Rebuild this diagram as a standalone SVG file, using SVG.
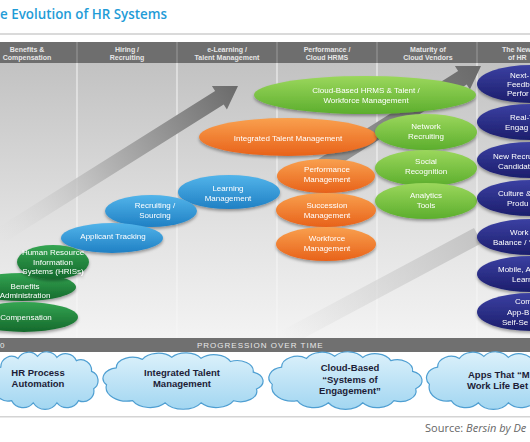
<svg xmlns="http://www.w3.org/2000/svg" xmlns:xlink="http://www.w3.org/1999/xlink" width="530" height="442" viewBox="0 0 530 442">
<style>
.hdr{font-family:"Liberation Sans",Arial,sans-serif;font-size:7px;font-weight:bold;fill:#e6e6e6;text-anchor:middle}
.nt{font-family:"Liberation Sans",Arial,sans-serif;font-size:8px;fill:#ffffff;text-anchor:middle}
.ns{font-family:"Liberation Sans",Arial,sans-serif;font-size:8px;fill:#ffffff}
.ct{font-family:"Liberation Sans",Arial,sans-serif;font-size:9.5px;font-weight:bold;fill:#1c1c36;text-anchor:middle}
.cs{font-family:"Liberation Sans",Arial,sans-serif;font-size:9.5px;font-weight:bold;fill:#1c1c36}
.dg{fill:url(#gDG)}.bl{fill:url(#gBL)}.or{fill:url(#gOR)}.lg{fill:url(#gLG)}.nv{fill:url(#gNV)}
.sep{stroke:#f6f6f6;stroke-width:1}
.hsep{stroke:#9a9a9a;stroke-width:1}
.cl{fill:url(#gCL);stroke:#4f9fd2;stroke-width:1.2}
</style>
<defs>
<linearGradient id="gBG" x1="0" y1="0" x2="0" y2="1">
<stop offset="0" stop-color="#c2c2c2"/><stop offset="0.6" stop-color="#e2e2e2"/><stop offset="1" stop-color="#f3f3f3"/>
</linearGradient>
<linearGradient id="gDG" x1="0" y1="0" x2="0" y2="1"><stop offset="0" stop-color="#34a552"/><stop offset="1" stop-color="#15692c"/></linearGradient>
<linearGradient id="gBL" x1="0" y1="0" x2="0" y2="1"><stop offset="0" stop-color="#52b4ea"/><stop offset="1" stop-color="#1f80c4"/></linearGradient>
<linearGradient id="gOR" x1="0" y1="0" x2="0" y2="1"><stop offset="0" stop-color="#f9a04e"/><stop offset="1" stop-color="#e8621a"/></linearGradient>
<linearGradient id="gLG" x1="0" y1="0" x2="0" y2="1"><stop offset="0" stop-color="#9bd75c"/><stop offset="1" stop-color="#5cae2d"/></linearGradient>
<linearGradient id="gNV" x1="0" y1="0" x2="0" y2="1"><stop offset="0" stop-color="#3b40a2"/><stop offset="1" stop-color="#1c1e6c"/></linearGradient>
<linearGradient id="gCL" x1="0" y1="0" x2="0" y2="1"><stop offset="0" stop-color="#dcf1fb"/><stop offset="1" stop-color="#a2d6f1"/></linearGradient>
<linearGradient id="gA1" gradientUnits="userSpaceOnUse" x1="0" y1="236" x2="238" y2="86">
<stop offset="0" stop-color="#d8d8d8" stop-opacity="0"/><stop offset="0.45" stop-color="#b4b4b4"/><stop offset="1" stop-color="#6a6a6a"/>
</linearGradient>
<linearGradient id="gA2" gradientUnits="userSpaceOnUse" x1="300" y1="180" x2="481" y2="66">
<stop offset="0" stop-color="#a0a0a0"/><stop offset="1" stop-color="#6a6a6a"/>
</linearGradient>
<linearGradient id="gA3" gradientUnits="userSpaceOnUse" x1="285" y1="340" x2="478" y2="236">
<stop offset="0" stop-color="#d0d0d0" stop-opacity="0"/><stop offset="1" stop-color="#c4c4c4"/>
</linearGradient>
<filter id="sh" x="-20%" y="-30%" width="140%" height="170%">
<feDropShadow dx="0" dy="2" stdDeviation="1.5" flood-color="#000" flood-opacity="0.35"/>
</filter>
<path id="cloud" vector-effect="non-scaling-stroke" d="M4,30 A10,10 0 0 1 10,14 A10,10 0 0 1 26,6 A11,11 0 0 1 44,4 A11,11 0 0 1 62,5 A11,11 0 0 1 80,8 A10,10 0 0 1 94,18 A9,9 0 0 1 96,34 A10,10 0 0 1 82,45 A12,12 0 0 1 62,47 A13,13 0 0 1 40,47 A12,12 0 0 1 20,45 A13,13 0 0 1 4,30 Z"/>
</defs>

<rect width="530" height="442" fill="#ffffff"/>
<text x="0" y="19" font-family="'Open Sans','Liberation Sans',sans-serif" font-size="14" font-weight="600" fill="#1f9cd7" textLength="167" lengthAdjust="spacingAndGlyphs">e Evolution of HR Systems</text>
<rect x="0" y="33" width="530" height="2" fill="#dadada"/>

<rect x="0" y="42" width="530" height="21" fill="#6e6e6e"/>
<g class="hsep"><line x1="77" y1="42" x2="77" y2="63"/><line x1="177" y1="42" x2="177" y2="63"/><line x1="277" y1="42" x2="277" y2="63"/><line x1="377" y1="42" x2="377" y2="63"/><line x1="477" y1="42" x2="477" y2="63"/></g>
<text class="hdr" x="27" y="52">Benefits &amp;</text><text class="hdr" x="27" y="60">Compensation</text>
<text class="hdr" x="127" y="52">Hiring /</text><text class="hdr" x="127" y="60">Recruiting</text>
<text class="hdr" x="227" y="52">e-Learning /</text><text class="hdr" x="227" y="60">Talent Management</text>
<text class="hdr" x="327" y="52">Performance /</text><text class="hdr" x="327" y="60">Cloud HRMS</text>
<text class="hdr" x="428" y="52">Maturity of</text><text class="hdr" x="428" y="60">Cloud Vendors</text>
<text class="hdr" x="502" y="52" style="text-anchor:start">The New</text><text class="hdr" x="508" y="60" style="text-anchor:start">of HR</text>

<rect x="0" y="63" width="530" height="275" fill="url(#gBG)"/>
<g class="sep"><line x1="77" y1="63" x2="77" y2="338"/><line x1="177" y1="63" x2="177" y2="338"/><line x1="277" y1="63" x2="277" y2="338"/><line x1="377" y1="63" x2="377" y2="338"/><line x1="477" y1="63" x2="477" y2="338"/></g>

<g id="connectors">
<polygon fill="url(#gA3)" points="281,331 289,346 482,243 474,228"/>
<polygon fill="url(#gA1)" points="-4.3,229 215.1,90.9 211.9,85.9 238,86 226.9,109.5 223.7,104.5 4.3,242.6"/>
<polygon fill="url(#gA2)" points="295.7,173.2 458.1,70.9 454.9,65.9 481,66 469.9,89.5 466.7,84.5 304.3,186.8"/>
</g>

<g id="n-cloudhrms" filter="url(#sh)"><ellipse class="lg" cx="365" cy="95" rx="111" ry="19"/><text class="nt" x="366" y="93">Cloud-Based HRMS &amp; Talent /</text><text class="nt" x="366" y="103">Workforce Management</text></g>
<g id="n-itm" filter="url(#sh)"><ellipse class="or" cx="288" cy="137" rx="89" ry="19"/><text class="nt" x="288" y="141">Integrated Talent Management</text></g>
<g id="n-network" filter="url(#sh)"><ellipse class="lg" cx="426" cy="132" rx="51" ry="18"/><text class="nt" x="426" y="129">Network</text><text class="nt" x="426" y="139">Recruiting</text></g>
<g id="n-social" filter="url(#sh)"><ellipse class="lg" cx="426" cy="168" rx="51" ry="18"/><text class="nt" x="426" y="164">Social</text><text class="nt" x="426" y="174">Recognition</text></g>
<g id="n-perf" filter="url(#sh)"><ellipse class="or" cx="326" cy="176" rx="49" ry="17"/><text class="nt" x="327" y="172">Performance</text><text class="nt" x="327" y="182">Management</text></g>
<g id="n-learning" filter="url(#sh)"><ellipse class="bl" cx="229" cy="192" rx="51" ry="17"/><text class="nt" x="228" y="191">Learning</text><text class="nt" x="228" y="201">Management</text></g>
<g id="n-analytics" filter="url(#sh)"><ellipse class="lg" cx="426" cy="201" rx="51" ry="18"/><text class="nt" x="426" y="198">Analytics</text><text class="nt" x="426" y="208">Tools</text></g>
<g id="n-succ" filter="url(#sh)"><ellipse class="or" cx="326" cy="210" rx="50" ry="17"/><text class="nt" x="327" y="208">Succession</text><text class="nt" x="327" y="218">Management</text></g>
<g id="n-recruit" filter="url(#sh)"><ellipse class="bl" cx="151" cy="211" rx="46" ry="16"/><text class="nt" x="155" y="208">Recruiting /</text><text class="nt" x="155" y="218">Sourcing</text></g>
<g id="n-applicant" filter="url(#sh)"><ellipse class="bl" cx="112" cy="238" rx="51" ry="15"/><text class="nt" x="113" y="239">Applicant Tracking</text></g>
<g id="n-wf" filter="url(#sh)"><ellipse class="or" cx="326" cy="244" rx="50" ry="17"/><text class="nt" x="327" y="241">Workforce</text><text class="nt" x="327" y="251">Management</text></g>
<g id="n-benefits" filter="url(#sh)"><ellipse class="dg" cx="22" cy="287" rx="54" ry="14"/><text class="nt" x="25" y="289">Benefits</text><text class="nt" x="25" y="298">Administration</text></g>
<g id="n-comp" filter="url(#sh)"><ellipse class="dg" cx="24" cy="317" rx="54" ry="15"/><text class="nt" x="26" y="320">Compensation</text></g>
<g id="n-hris" filter="url(#sh)"><ellipse class="dg" cx="53" cy="262" rx="36" ry="17"/><text class="nt" x="53" y="255">Human Resource</text><text class="nt" x="53" y="264.5">Information</text><text class="nt" x="53" y="274">Systems (HRISs)</text></g>

<g id="n-next" filter="url(#sh)"><ellipse class="nv" cx="531" cy="84" rx="54" ry="19"/><text class="ns" x="510" y="78">Next-</text><text class="ns" x="507" y="87">Feedb</text><text class="ns" x="507" y="96">Perfor</text></g>
<g id="n-real" filter="url(#sh)"><ellipse class="nv" cx="531" cy="122" rx="54" ry="18"/><text class="ns" x="510" y="120">Real-T</text><text class="ns" x="505" y="130">Engag</text></g>
<g id="n-newrec" filter="url(#sh)"><ellipse class="nv" cx="531" cy="160" rx="54" ry="18"/><text class="ns" x="493" y="159">New Recru</text><text class="ns" x="498" y="169">Candidat</text></g>
<g id="n-culture" filter="url(#sh)"><ellipse class="nv" cx="531" cy="198" rx="54" ry="18"/><text class="ns" x="498" y="196">Culture &amp;</text><text class="ns" x="507" y="206">Produ</text></g>
<g id="n-work" filter="url(#sh)"><ellipse class="nv" cx="531" cy="237" rx="54" ry="18"/><text class="ns" x="510" y="235">Work</text><text class="ns" x="493" y="245">Balance / ‘</text></g>
<g id="n-mobile" filter="url(#sh)"><ellipse class="nv" cx="531" cy="274" rx="54" ry="18"/><text class="ns" x="498" y="272">Mobile, A</text><text class="ns" x="512" y="282">Learn</text></g>
<g id="n-comp2" filter="url(#sh)"><ellipse class="nv" cx="531" cy="312" rx="54" ry="19"/><text class="ns" x="515" y="304">Comp</text><text class="ns" x="507" y="315">App-B</text><text class="ns" x="502" y="325">Self-Se</text></g>

<rect x="0" y="338" width="530" height="14" fill="#707070"/>
<text x="0" y="348" font-family="'Liberation Sans',Arial,sans-serif" font-size="8" fill="#e8e8e8">0</text>
<text x="197" y="348" font-family="'Liberation Sans',Arial,sans-serif" font-size="8" letter-spacing="1" fill="#e8e8e8">PROGRESSION OVER TIME</text>

<g id="c-hrpa"><use href="#cloud" class="cl" transform="translate(-10,352) scale(1.08,1.08)"/><text class="ct" x="38" y="376">HR Process</text><text class="ct" x="38" y="387">Automation</text></g>
<g id="c-itm"><use href="#cloud" class="cl" transform="translate(100,353) scale(1.63,1.06)"/><text class="ct" x="182" y="376">Integrated Talent</text><text class="ct" x="182" y="387">Management</text></g>
<g id="c-cloud"><use href="#cloud" class="cl" transform="translate(266,352) scale(1.56,1.08)"/><text class="ct" x="350" y="371">Cloud-Based</text><text class="ct" x="350" y="383">“Systems of</text><text class="ct" x="350" y="394">Engagement”</text></g>
<g id="c-apps"><use href="#cloud" class="cl" transform="translate(424,352) scale(1.36,1.08)"/><text class="cs" x="468" y="378">Apps That “M</text><text class="cs" x="467" y="389">Work Life Bet</text></g>

<rect x="0" y="416" width="530" height="1.5" fill="#d4d4d4"/>
<text x="425" y="432" font-family="'Open Sans','Liberation Sans',sans-serif" font-size="11" fill="#666666">Source: <tspan font-style="italic">Bersin by De</tspan></text>
</svg>
